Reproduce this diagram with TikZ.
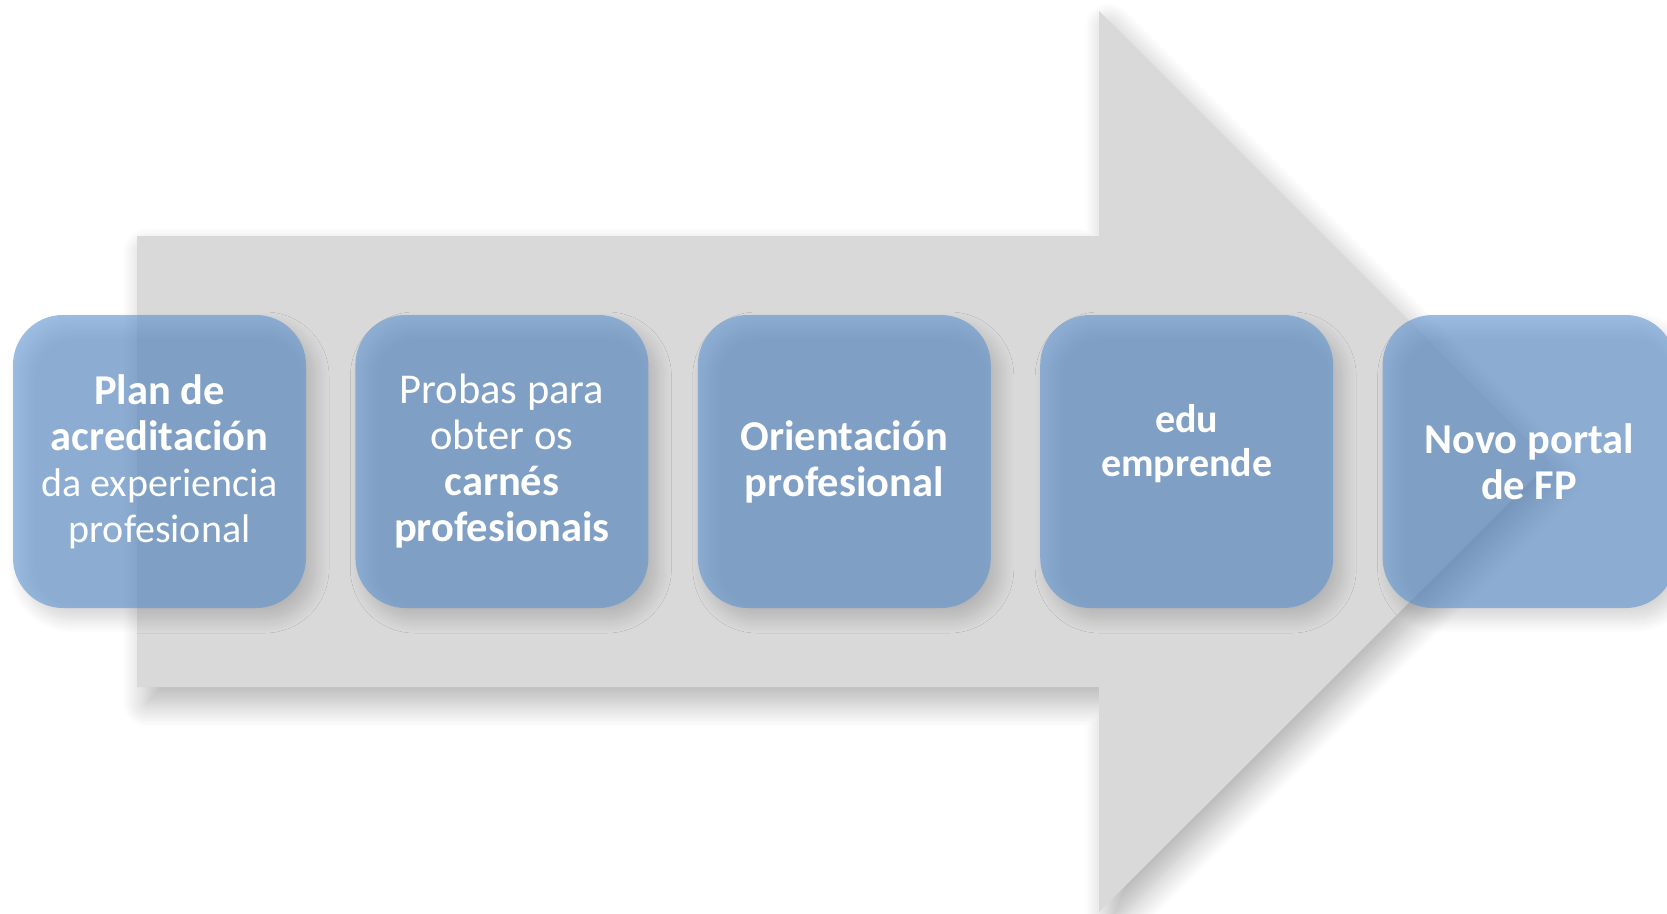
\documentclass[tikz,border=0pt]{standalone}
\usepackage{fontspec}
\setmainfont{Carlito}
\usetikzlibrary{positioning,shadows.blur}

\definecolor{boxblue}{RGB}{92,146,208}
\definecolor{arrowgrey}{RGB}{217,217,217}

\tikzset{
  stepbox/.style={rectangle, rounded corners=50pt, minimum width=293pt, minimum height=293pt,
    inner sep=0pt, fill=boxblue, fill opacity=0.6, text opacity=1, text=white, align=center,
    font=\fontsize{42.5}{46}\selectfont,
    blur shadow={shadow xshift=9pt, shadow yshift=-11pt, shadow blur radius=14pt,
      shadow blur steps=14, shadow opacity=28}},
  steptext/.style={text=white, align=center, inner sep=0pt, font=\fontsize{40}{43.5}\selectfont\bfseries}
}

\begin{document}
\begin{tikzpicture}[x=1pt,y=1pt,yscale=-1]

\useasboundingbox (0,0) rectangle (1667,913);
\clip (0,0) rectangle (1667,913);

%Shape: Right Arrow [id:arrow]
\fill [arrowgrey, blur shadow={shadow xshift=10pt, shadow yshift=-16pt, shadow blur radius=24pt,
    shadow blur steps=16, shadow opacity=30}]
  (137,236) -- (1099,236) -- (1099,11) -- (1550,462) -- (1099,912) -- (1099,687) -- (137,687) -- cycle ;

%Shape: Rounded Rect [id:plan]
\node [stepbox] (plan) at (159.5,461.5) {\textbf{Plan de}\\\textbf{acreditación}\\{\fontsize{40}{44}\selectfont da experiencia}\\{\fontsize{40}{44}\selectfont profesional}};
%Shape: Rounded Rect [id:probas]
\node [stepbox, right=49pt of plan] (probas) {Probas para\\obter os\\\textbf{carnés}\\\textbf{profesionais}};
%Shape: Rounded Rect [id:orient]
\node [stepbox, right=49pt of probas] (orient) {\textbf{Orientación}\\\textbf{profesional}};
%Shape: Rounded Rect [id:edu]
\node [stepbox, right=49pt of orient] (edu) {};
\node [steptext] (edutext) at ([yshift=-18pt]edu.center) {edu\\emprende};
%Shape: Rounded Rect [id:portal]
\node [stepbox, right=49pt of edu] (portal) {\textbf{Novo portal}\\\textbf{de FP}};

\end{tikzpicture}
\end{document}
